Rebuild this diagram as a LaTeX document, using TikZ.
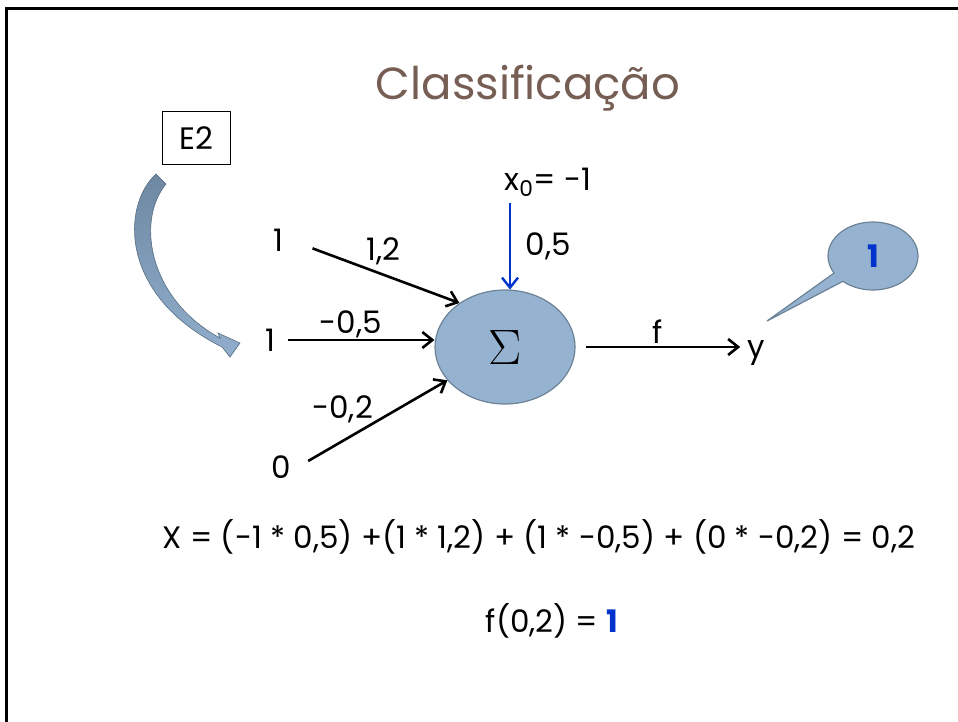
\documentclass[tikz,border=0pt]{standalone}
\usepackage{fontspec}
\setmainfont{Poppins}
\usepackage{tikz}
\usetikzlibrary{shapes.geometric, shapes.callouts, arrows.meta}

\definecolor{titlebrown}{RGB}{118,94,84}
\definecolor{neuronfill}{RGB}{149,179,208}
\definecolor{neurondraw}{RGB}{108,130,150}
\definecolor{biasblue}{RGB}{0,51,204}
\definecolor{bendtop}{RGB}{110,136,162}
\definecolor{bendbottom}{RGB}{144,174,204}

\begin{document}
\begin{tikzpicture}[x=0.5pt, y=-0.5pt, >={Straight Barb[length=5pt, width=8pt]},
		font=\fontsize{15.5}{18}\selectfont,
		wire/.style={->, line width=1.3pt, shorten <=3pt}]

		\useasboundingbox (0,0) rectangle (958,722);

		% Slide frame (runs off the right and bottom)
		\draw[line width=1.5pt] (6,722) -- (6,9) -- (958,9);

		% Title
		\node[font=\fontsize{22.5}{26}\selectfont, text=titlebrown] (title) at (528,88) {Classificação};

		% Example box and its bent arrow
		\node[draw, line width=0.5pt, minimum width=34pt, minimum height=26pt] (E2) at (196,138) {E2};
		\shade[top color=bendtop, bottom color=bendbottom, draw=bendtop!80!black, line width=0.3pt]
			(156,174) .. controls (122,205) and (118,295) .. (222,347)
			-- (230,357) -- (240,343) -- (218,333) -- (220,338)
			.. controls (150,300) and (135,222) .. (166,184) -- cycle;

		% Inputs
		\node (in1) at (278,240) {1};
		\node (in2) at (270,340) {1};
		\node (in0) at (281,467) {0};

		% Neuron
		\node[ellipse, draw=neurondraw, fill=neuronfill, line width=0.6pt,
			minimum width=70pt, minimum height=57pt,
			font=\fontsize{27}{30}\selectfont] (sum) at (505,347) {$\Sigma$};

		% Bias
		\node (bias) at (548,182) {x\textsubscript{0}= -1};
		\draw[->, biasblue, line width=1.2pt] (sum.85 |- bias.south) --
			node[right=4pt, text=black] {0,5} (sum.85);

		% --- Weighted inputs ---
		\draw[wire, shorten <=12pt] (in1.east) -- node[pos=.55, above=1pt] {1,2} (sum.136);
		\draw[wire] (in2.east) -- node[pos=.45, above=-3pt] {-0,5} (in2.east -| sum.west);
		\draw[wire, shorten <=6pt] (in0.east) -- node[pos=.3, above=5pt] {-0,2} (sum.210);

		% Output
		\node (out) at (756,353) {y};
		\draw[wire, shorten <=5pt] (sum.east) -- node[above=-2pt] {f} (sum.east -| out.west);

		% Callout with the result
		\coordinate (tip) at (767,321);
		\node[ellipse callout, callout absolute pointer=(tip), callout pointer arc=18,
			draw=neurondraw, fill=neuronfill, line width=0.6pt,
			minimum width=45pt, minimum height=34pt,
			text=biasblue, font=\bfseries\fontsize{15.5}{18}\selectfont] (result) at (873,256) {1};

		% Computation
		\node (sumtext) at (539,537) {X = (-1 * 0,5) +(1 * 1,2) + (1 * -0,5) + (0 * -0,2) = 0,2};
		\node (ftext) at (552,621) {f(0,2) = \textcolor{biasblue}{\bfseries 1}};

	\end{tikzpicture}
\end{document}
